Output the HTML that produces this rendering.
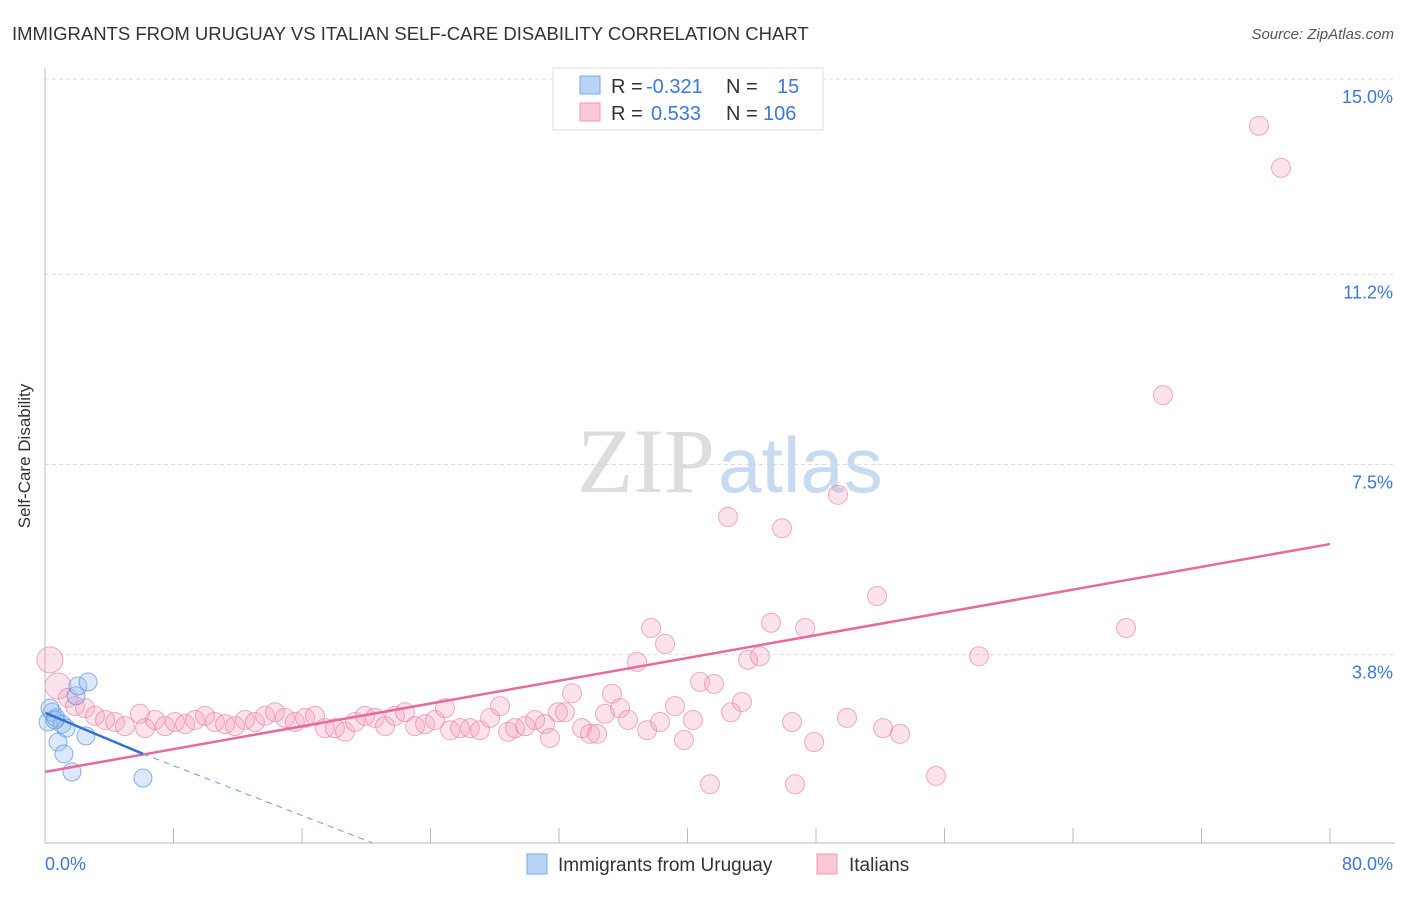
<!DOCTYPE html>
<html><head><meta charset="utf-8"><style>
body{margin:0;background:#fff;font-family:"Liberation Sans",sans-serif;}
</style></head><body>
<svg width="1406" height="892" xmlns="http://www.w3.org/2000/svg">
<text x="12" y="40" font-size="18.5" fill="#333">IMMIGRANTS FROM URUGUAY VS ITALIAN SELF-CARE DISABILITY CORRELATION CHART</text>
<text x="1394" y="39" font-size="15" fill="#555" font-style="italic" text-anchor="end">Source: ZipAtlas.com</text>
<g id="grid"></g>
<text x="715" y="492" font-size="92" fill="#ddd" text-anchor="end" font-family="Liberation Serif">ZIP</text>
<text x="718" y="492" font-size="78" fill="#c8daf0">atlas</text>
<g id="pts"></g>
<g id="trend"></g>
<line x1="45" y1="68" x2="45" y2="843" stroke="#bbb"/>
<line x1="45" y1="843" x2="1395" y2="843" stroke="#bbb"/>
<text x="30" y="456" font-size="17" fill="#333" text-anchor="middle" transform="rotate(-90 30 456)">Self-Care Disability</text>
<text x="45" y="870" font-size="18" fill="#3b78d8">0.0%</text>
<text x="1393" y="870" font-size="18" fill="#3b78d8" text-anchor="end">80.0%</text>
<g>
<rect x="553" y="68" width="270" height="62" fill="#fff" stroke="#ddd"/>
<rect x="580" y="76" width="20" height="18" fill="#b8d3f5" stroke="#7aa8e8"/>
<rect x="580" y="103" width="20" height="18" fill="#fbc8d6" stroke="#f09ab2"/>
<text x="611" y="93" font-size="20" fill="#333">R = <tspan x="646" fill="#3b78d8">-0.321</tspan><tspan x="726">N = </tspan><tspan x="777" fill="#3b78d8">15</tspan></text>
<text x="611" y="120" font-size="20" fill="#333">R = <tspan x="651" fill="#3b78d8">0.533</tspan><tspan x="726">N = </tspan><tspan x="763" fill="#3b78d8">106</tspan></text>
</g>
<g>
<rect x="527" y="854" width="20" height="20" fill="#b8d3f5" stroke="#7aa8e8"/>
<text x="558" y="871" font-size="19" fill="#333">Immigrants from Uruguay</text>
<rect x="817" y="854" width="20" height="20" fill="#fbc8d6" stroke="#f09ab2"/>
<text x="849" y="871" font-size="19" fill="#333">Italians</text>
</g>
</svg>
<script>
const yTicks=[15.0,11.2,7.5,3.8];
const yTickLabels=["15.0%","11.2%","7.5%","3.8%"];
const xTicks=[0,8,16,24,32,40,48,56,64,72,80];
const pinkX=[0.31,0.81,1.43,1.87,2.49,3.11,3.74,4.36,4.98,5.91,6.23,6.85,7.47,8.09,8.72,9.34,9.96,10.58,11.21,11.83,12.45,13.07,13.70,14.32,14.94,15.56,16.19,16.81,17.43,18.05,18.68,19.30,19.92,20.54,21.17,21.79,22.41,23.04,23.66,24.28,24.90,25.22,25.84,26.46,27.08,27.71,28.33,28.83,29.26,29.89,30.51,31.13,31.44,31.94,32.37,32.81,33.43,33.93,34.37,34.86,35.30,35.80,36.30,36.86,37.48,37.73,38.29,38.60,39.22,39.78,40.34,40.78,41.40,41.65,42.52,42.71,43.39,43.77,44.51,45.20,45.88,46.51,46.69,47.32,47.88,49.37,49.93,51.80,52.17,53.23,55.47,58.15,67.30,69.60,75.58,76.95];
const pinkY=[3.70,3.19,2.96,2.80,2.76,2.61,2.53,2.49,2.41,2.65,2.37,2.53,2.41,2.49,2.45,2.53,2.61,2.49,2.45,2.41,2.53,2.49,2.61,2.68,2.57,2.49,2.57,2.61,2.37,2.37,2.30,2.49,2.61,2.57,2.41,2.61,2.68,2.41,2.45,2.53,2.76,2.33,2.37,2.37,2.33,2.57,2.80,2.30,2.37,2.41,2.53,2.45,2.18,2.68,2.68,3.05,2.37,2.26,2.26,2.65,3.04,2.76,2.53,3.66,2.33,4.32,2.49,4.01,2.80,2.14,2.53,3.27,1.28,3.23,6.48,2.68,2.88,3.70,3.77,4.42,6.26,2.49,1.28,4.32,2.10,6.91,2.57,4.94,2.37,2.26,1.44,3.77,4.32,8.85,14.09,13.27];
const blueX=[0.19,0.44,0.68,1.06,1.31,0.81,1.18,1.68,1.93,2.05,2.68,2.55,6.10,0.31,0.62];
const blueY=[2.49,2.68,2.57,2.45,2.37,2.10,1.87,1.52,3.00,3.19,3.27,2.22,1.40,2.76,2.53];
const pinkTrend=[1.52,0.0554];
const blueTrend=[2.67,-0.131];
const sx=v=>45+v*16.0625, sy=v=>850-v*51.4;
const NS="http://www.w3.org/2000/svg";
const grid=document.getElementById('grid');
yTicks.forEach((t,i)=>{
 const l=document.createElementNS(NS,'line');
 
 
 l.setAttribute('x1',45);l.setAttribute('x2',1395);l.setAttribute('y1',sy(t));l.setAttribute('y2',sy(t));
 l.setAttribute('stroke','#ddd');l.setAttribute('stroke-dasharray','4,3');grid.appendChild(l);
 const tx=document.createElementNS(NS,'text');
 
 
 tx.setAttribute('x',1393);tx.setAttribute('y',sy(t)+24);tx.setAttribute('text-anchor','end');
 tx.setAttribute('font-size','18');tx.setAttribute('fill','#3b78d8');tx.textContent=yTickLabels[i];grid.appendChild(tx);
});
xTicks.forEach(t=>{
 const l=document.createElementNS(NS,'line');
 
 
 l.setAttribute('x1',sx(t));l.setAttribute('x2',sx(t));l.setAttribute('y1',828);l.setAttribute('y2',843);
 l.setAttribute('stroke','#bbb');grid.appendChild(l);
});
const pts=document.getElementById('pts');
pinkX.forEach((x,i)=>{
 const c=document.createElementNS(NS,'circle');
 
 
 c.setAttribute('cx',sx(x));c.setAttribute('cy',sy(pinkY[i]));c.setAttribute('r',i<2?13:9.5);
 c.setAttribute('fill','rgba(246,160,188,0.3)');c.setAttribute('stroke','rgba(232,120,155,0.6)');pts.appendChild(c);
});
blueX.forEach((x,i)=>{
 const c=document.createElementNS(NS,'circle');
 
 
 c.setAttribute('cx',sx(x));c.setAttribute('cy',sy(blueY[i]));c.setAttribute('r',9);
 c.setAttribute('fill','rgba(150,190,240,0.35)');c.setAttribute('stroke','rgba(80,140,220,0.65)');pts.appendChild(c);
});
const tr=document.getElementById('trend');
function line(x1,y1,x2,y2,col,w,dash,name){
 const l=document.createElementNS(NS,'line');
 
 
 l.setAttribute('x1',sx(x1));l.setAttribute('y1',sy(y1));l.setAttribute('x2',sx(x2));l.setAttribute('y2',sy(y2));
 l.setAttribute('stroke',col);l.setAttribute('stroke-width',w);if(dash)l.setAttribute('stroke-dasharray',dash);tr.appendChild(l);
}
line(0,pinkTrend[0],80,pinkTrend[0]+80*pinkTrend[1],'#e8699a',2.5,null,'italian-trend');
const bEnd=Math.max(...blueX), bZero=-blueTrend[0]/blueTrend[1];
line(0,blueTrend[0],bEnd,blueTrend[0]+bEnd*blueTrend[1],'#2f6fd6',2.5,null,'uruguay-trend');
line(bEnd,blueTrend[0]+bEnd*blueTrend[1],bZero,0.14,'#6d9be0',1,'6,5','uruguay-trend-extension');
</script>
</body></html>
